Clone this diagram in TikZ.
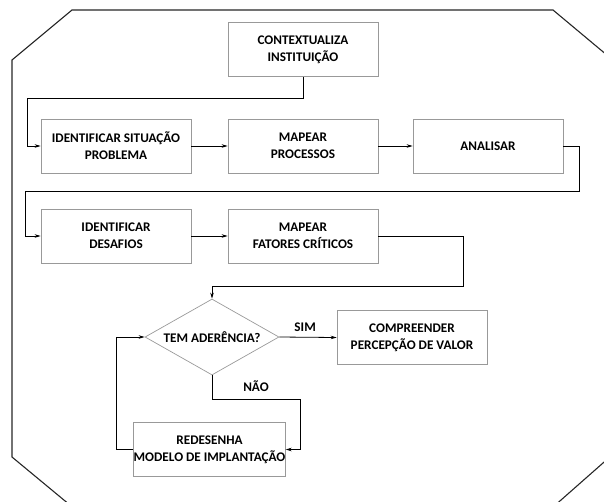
\documentclass[tikz,border=0pt]{standalone}
\usepackage{fontspec}
\setmainfont{Carlito}
\usetikzlibrary{shapes.geometric,arrows.meta}
\begin{document}
\begin{tikzpicture}[x=1pt,y=-1pt,
  stepbox/.style={draw=black!40,line width=0.7pt,minimum width=150pt,minimum height=54pt,
    inner sep=0pt,align=center,font=\fontsize{13.2}{17}\selectfont\bfseries},
  decision/.style={draw=black!40,line width=0.7pt,shape=diamond,aspect=1.76,
    minimum width=134pt,minimum height=76pt,inner sep=0pt,align=center,
    font=\fontsize{13.2}{17}\selectfont\bfseries},
  flow/.style={line width=0.8pt,-{Stealth[length=6pt,width=3.5pt]}},
  tag/.style={font=\fontsize{13.2}{15}\selectfont\bfseries},
  frame/.style={line width=1.1pt,draw=black!85}]
\useasboundingbox (0,0) rectangle (604,501);
\begin{scope}
  \clip (0,0) rectangle (604,501);
  % outer octagonal frame
  \draw[frame] (72,10) -- (553,10) -- (620,66) -- (620,448) -- (544,515)
    -- (82,515) -- (12,457) -- (12,60) -- cycle;
\end{scope}

% process steps
\node[stepbox] (ctx) at (303,49.5) {CONTEXTUALIZA\\INSTITUIÇÃO};
\node[stepbox] (isp) at (116,146) {IDENTIFICAR SITUAÇÃO\\PROBLEMA};
\node[stepbox] (mpp) at (303,146) {MAPEAR\\PROCESSOS};
\node[stepbox] (ana) at (488,146) {ANALISAR};
\node[stepbox] (ids) at (116,236) {IDENTIFICAR\\DESAFIOS};
\node[stepbox] (mfc) at (303,236) {MAPEAR\\FATORES CRÍTICOS};
\node[decision] (dia) at (212,337) {TEM ADERÊNCIA?};
\node[stepbox] (cpv) at (412,337.5) {COMPREENDER\\PERCEPÇÃO DE VALOR};
\node[stepbox] (red) at (209.5,449.5) {REDESENHA\\MODELO DE IMPLANTAÇÃO};

% bend points of the connectors
\coordinate (b1) at (27,98);
\coordinate (b2) at (579,191);
\coordinate (b3) at (25,191);
\coordinate (b4) at (463,286);
\coordinate (b5) at (300,399);
\coordinate (b6) at (116,337);

% connectors
\draw[flow] (ctx.south) |- (b1) |- (isp.west);
\draw[flow] (isp.east) -- (mpp.west);
\draw[flow] (mpp.east) -- (ana.west);
\draw[flow] (ana.east) -| (b2) -- (b3) |- (ids.west);
\draw[flow] (ids.east) -- (mfc.west);
\draw[flow] (mfc.east) -| (b4) -| (dia.north);
\draw[flow] (dia.east) -- node[tag,above=2pt,pos=0.45] {SIM} (cpv.west);
\draw[flow] (dia.south) |- (b5) |- (red.east);
\draw[flow] (red.west) -| (b6) -- (dia.west);
\node[tag] (nao) at (256,386) {NÃO};
\end{tikzpicture}
\end{document}
